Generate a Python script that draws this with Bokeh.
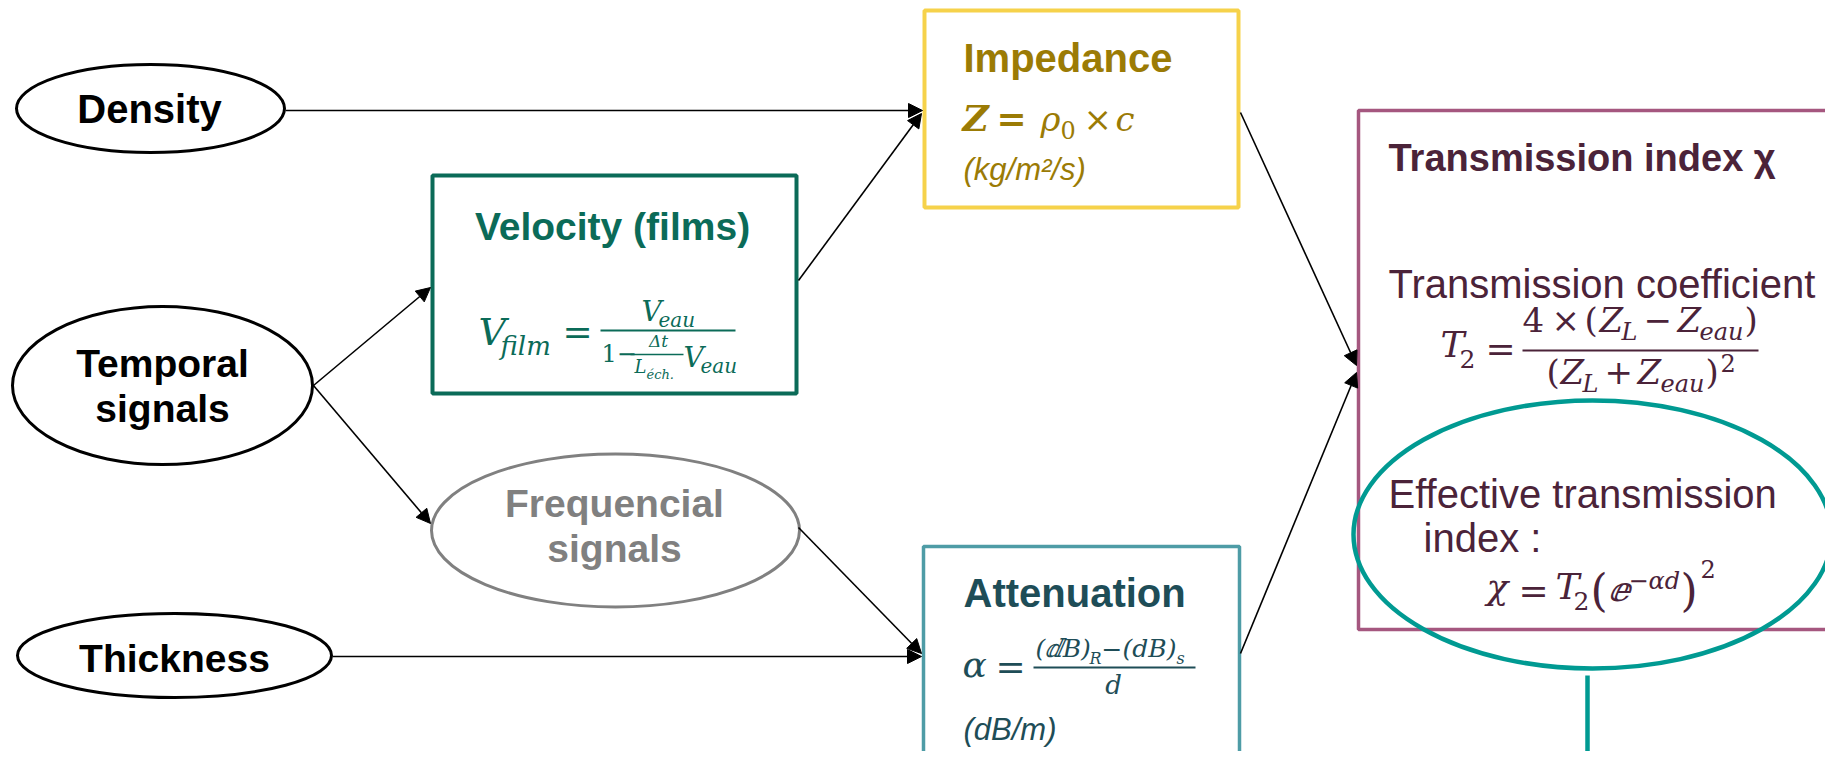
from bokeh.plotting import figure
from bokeh.models import Range1d, Label, Arrow, NormalHead
from bokeh.embed import file_html
from bokeh.resources import INLINE

# ---------------- content (texts) ----------------
input_nodes = ["Density", "Temporal", "signals", "Thickness"]
freq_node = ["Frequencial", "signals"]
box_titles = ["Velocity (films)", "Impedance", "Attenuation", "Transmission index χ"]
units = ["(kg/m²/s)", "(dB/m)"]
trans_texts = ["Transmission coefficient", "Effective transmission", "index :"]

# ---------------- colours ----------------
C_VEL = "#0B6B58"
C_IMP_B = "#F6D24A"
C_IMP_T = "#9B7B05"
C_ATT_B = "#4E9CA6"
C_ATT_T = "#1E4D57"
C_TR_B = "#A5577F"
C_TR_T = "#4B2339"
C_TEAL = "#009A92"
C_GREY = "#808080"

SANS = "Liberation Sans"
SERIF = "DejaVu Serif"

p = figure(width=1825, height=751, x_range=Range1d(0, 1825), y_range=Range1d(751, 0),
           output_backend="svg", toolbar_location=None, min_border=0,
           x_axis_location=None, y_axis_location=None)
p.xgrid.visible = False
p.ygrid.visible = False
p.outline_line_color = None
p.background_fill_color = "white"
p.border_fill_color = "white"


def lab(x, y, text, size, color="black", font=SANS, style="normal", align="left"):
    k = 0.40 if font == SERIF else 0.36
    p.add_layout(Label(x=x, y=y - k * size, text=text, text_font=font, text_font_size=f"{size}px",
                       text_font_style=style, text_color=color, text_align=align,
                       text_baseline="alphabetic"))


def arrow(x0, y0, x1, y1):
    p.add_layout(Arrow(end=NormalHead(size=14, fill_color="black", line_color="black", line_width=1),
                       x_start=x0, y_start=y0, x_end=x1, y_end=y1,
                       line_color="black", line_width=1.6))


# ---------------- arrows ----------------
arrow(285, 110, 922, 110)
arrow(798, 280, 921, 113)
arrow(313, 385, 430, 287)
arrow(313, 385, 430, 523)
arrow(798, 527, 921, 653)
arrow(332, 656, 921, 656)
arrow(1240, 112, 1356, 365)
arrow(1240, 653, 1356, 372)

# ---------------- ellipses ----------------
p.ellipse(x=[150, 162, 174], y=[108, 385, 655], width=[268, 300, 314], height=[88, 158, 84],
          fill_color="white", line_color="black", line_width=3)
p.ellipse(x=[615], y=[530], width=[368], height=[153], fill_color="white",
          line_color=C_GREY, line_width=3)

# ---------------- boxes ----------------
p.quad(left=[432], right=[796], top=[175], bottom=[393], fill_color="white", line_color=C_VEL, line_width=4)
p.quad(left=[924], right=[1238], top=[10], bottom=[207], fill_color="white", line_color=C_IMP_B, line_width=4)
p.quad(left=[923], right=[1239], top=[546], bottom=[770], fill_color="white", line_color=C_ATT_B, line_width=3.5)
p.quad(left=[1358], right=[1850], top=[110], bottom=[629], fill_color="white", line_color=C_TR_B, line_width=3.5)

# ---------------- node texts ----------------
lab(149, 123, input_nodes[0], 40, style="bold", align="center")
lab(162, 377, input_nodes[1], 39, style="bold", align="center")
lab(162, 422, input_nodes[2], 39, style="bold", align="center")
lab(174, 672, input_nodes[3], 39, style="bold", align="center")
lab(614, 517, freq_node[0], 39, color=C_GREY, style="bold", align="center")
lab(614, 562, freq_node[1], 39, color=C_GREY, style="bold", align="center")

# ---------------- box titles & units ----------------
lab(612, 240, box_titles[0], 39, color=C_VEL, style="bold", align="center")
lab(963, 72, box_titles[1], 40, color=C_IMP_T, style="bold")
lab(963, 607, box_titles[2], 40, color=C_ATT_T, style="bold")
lab(1388, 171, box_titles[3], 38, color=C_TR_T, style="bold")
lab(963, 180, units[0], 31, color=C_IMP_T, style="italic")
lab(963, 740, units[1], 31, color=C_ATT_T, style="italic")
lab(1388, 298, trans_texts[0], 40, color=C_TR_T)
lab(1388, 508, trans_texts[1], 40, color=C_TR_T)
lab(1423, 552, trans_texts[2], 40, color=C_TR_T)

# ---------------- Velocity formula ----------------
lab(478, 347, "V", 38, C_VEL, SERIF, "italic")
lab(500, 356, "film", 26, C_VEL, SERIF, "italic")
lab(562, 345, "=", 36, C_VEL, SERIF)
p.line(x=[600, 735], y=[330, 330], line_color=C_VEL, line_width=2)
lab(641, 322, "V", 28, C_VEL, SERIF, "italic")
lab(658, 327, "eau", 20, C_VEL, SERIF, "italic")
lab(601, 362, "1−", 24, C_VEL, SERIF)
p.line(x=[630, 683], y=[354, 354], line_color=C_VEL, line_width=1.3)
lab(658, 347, "Δt", 17, C_VEL, SERIF, "italic", "center")
lab(634, 373, "L", 18, C_VEL, SERIF, "italic")
lab(646, 379, "éch.", 13, C_VEL, SERIF, "italic")
lab(683, 368, "V", 28, C_VEL, SERIF, "italic")
lab(700, 373, "eau", 20, C_VEL, SERIF, "italic")

# ---------------- Impedance formula ----------------
lab(962, 132, "Z", 36, C_IMP_T, SERIF, "bold italic")
lab(996, 132, "=", 36, C_IMP_T, SERIF, "bold")
lab(1040, 132, "ρ", 34, C_IMP_T, SERIF, "italic")
lab(1060, 139, "0", 24, C_IMP_T, SERIF)
lab(1083, 132, "×", 34, C_IMP_T, SERIF)
lab(1115, 132, "c", 34, C_IMP_T, SERIF, "italic")

# ---------------- Attenuation formula ----------------
lab(962, 678, "α", 36, C_ATT_T, SERIF, "italic")
lab(995, 680, "=", 36, C_ATT_T, SERIF)
p.line(x=[1033, 1195], y=[667, 667], line_color=C_ATT_T, line_width=2)
lab(1035, 658, "(ⅆB)", 25, C_ATT_T, SERIF, "italic")
lab(1089, 664, "R", 16, C_ATT_T, SERIF, "italic")
lab(1101, 658, "−", 25, C_ATT_T, SERIF)
lab(1122, 658, "(dB)", 25, C_ATT_T, SERIF, "italic")
lab(1176, 664, "s", 16, C_ATT_T, SERIF, "italic")
lab(1113, 695, "d", 26, C_ATT_T, SERIF, "italic", "center")

# ---------------- T2 formula ----------------
lab(1440, 358, "T", 36, C_TR_T, SERIF, "italic")
lab(1459, 368, "2", 25, C_TR_T, SERIF)
lab(1485, 362, "=", 36, C_TR_T, SERIF)
p.line(x=[1522, 1758], y=[350, 350], line_color=C_TR_T, line_width=2)
lab(1522, 333, "4", 34, C_TR_T, SERIF)
lab(1551, 333, "×", 34, C_TR_T, SERIF)
lab(1584, 333, "(", 34, C_TR_T, SERIF)
lab(1599, 333, "Z", 34, C_TR_T, SERIF, "italic")
lab(1621, 341, "L", 24, C_TR_T, SERIF, "italic")
lab(1643, 333, "−", 34, C_TR_T, SERIF)
lab(1677, 333, "Z", 34, C_TR_T, SERIF, "italic")
lab(1699, 341, "eau", 24, C_TR_T, SERIF, "italic")
lab(1744, 333, ")", 34, C_TR_T, SERIF)
lab(1546, 385, "(", 34, C_TR_T, SERIF)
lab(1560, 385, "Z", 34, C_TR_T, SERIF, "italic")
lab(1582, 393, "L", 24, C_TR_T, SERIF, "italic")
lab(1604, 385, "+", 34, C_TR_T, SERIF)
lab(1637, 385, "Z", 34, C_TR_T, SERIF, "italic")
lab(1660, 393, "eau", 24, C_TR_T, SERIF, "italic")
lab(1705, 385, ")", 34, C_TR_T, SERIF)
lab(1720, 372, "2", 24, C_TR_T, SERIF)

# ---------------- chi formula ----------------
lab(1486, 600, "χ", 36, C_TR_T, SERIF, "italic")
lab(1518, 604, "=", 36, C_TR_T, SERIF)
lab(1555, 600, "T", 36, C_TR_T, SERIF, "italic")
lab(1573, 610, "2", 25, C_TR_T, SERIF)
lab(1590, 608, "(", 44, C_TR_T, SERIF)
lab(1608, 602, "ⅇ", 34, C_TR_T, SERIF, "italic")
lab(1628, 590, "−αd", 24, C_TR_T, SERIF, "italic")
lab(1680, 608, ")", 44, C_TR_T, SERIF)
lab(1700, 578, "2", 24, C_TR_T, SERIF)

# ---------------- teal highlight ----------------
p.ellipse(x=[1592], y=[534], width=[478], height=[268], fill_color=None,
          line_color=C_TEAL, line_width=4.5)
p.line(x=[1587, 1587], y=[675, 770], line_color=C_TEAL, line_width=4.5)

open("out.html", "w").write(file_html(p, INLINE))
